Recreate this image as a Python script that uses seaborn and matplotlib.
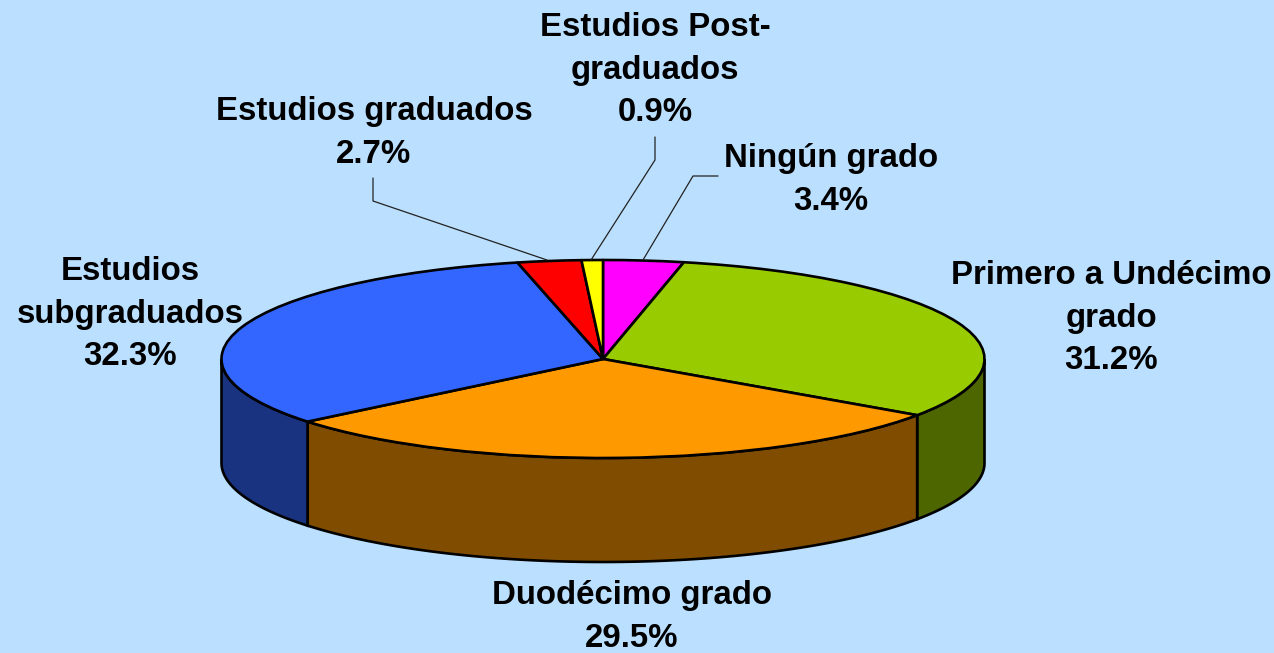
import numpy as np
import seaborn as sns
import matplotlib
matplotlib.use("Agg")
import matplotlib.pyplot as plt

categories = ["Ningún grado", "Primero a Undécimo\ngrado", "Duodécimo grado",
              "Estudios\nsubgraduados", "Estudios graduados", "Estudios Post-\ngraduados"]
values = [3.4, 31.2, 29.5, 32.3, 2.7, 0.9]
top_colors = ["#FF00FF", "#99CC00", "#FF9900", "#3366FF", "#FF0000", "#FFFF00"]
side_colors = ["#800080", "#4D6600", "#804D00", "#1A3380", "#800000", "#808000"]

sns.set_theme(style="white")
plt.rcParams["font.family"] = ["Liberation Sans", "DejaVu Sans"]

W, H = 1274, 653
cx, cy = 603, 359
rx, ry = 381.5, 99
depth = 104 / ry
bg = "#BBE0FF"

fig = plt.figure(figsize=(W / 100, H / 100), dpi=100, facecolor=bg)
ax = fig.add_axes([0, 0, 1, 1])

palette = sns.color_palette(top_colors)
ax.pie(values, colors=palette, startangle=90, counterclock=False, radius=1,
       wedgeprops=dict(edgecolor="black", linewidth=1.9, joinstyle="round"))
ax.set_aspect("auto")
ax.set_xlim(-cx / rx, (W - cx) / rx)
ax.set_ylim(-(H - cy) / ry, cy / ry)
ax.axis("off")

# side wall, only the part of each slice facing the front
ends = 90 - 3.6 * np.cumsum(values)
starts = np.r_[90, ends[:-1]]
for a0, a1, col in zip(starts, ends, side_colors):
    hi = min(a0, 0)
    lo = max(a1, -180)
    if hi <= lo:
        continue
    t = np.radians(np.linspace(lo, hi, 120))
    x = np.r_[np.cos(t), np.cos(t[::-1])]
    y = np.r_[np.sin(t), np.sin(t[::-1]) - depth]
    ax.fill(x, y, facecolor=col, edgecolor="black", linewidth=1.9, zorder=0)


def px(x, y):
    return (x - cx) / rx, (cy - y) / ry


leaders = [
    ([718, 693, 643], [176, 176, 260]),
    ([655, 655, 591], [137, 160, 260]),
    ([373, 373, 547], [178, 201, 260]),
]
for xs, ys in leaders:
    lx, ly = px(np.array(xs), np.array(ys))
    ax.plot(lx, ly, color="#222222", lw=0.9, zorder=3)

pcts = ["%.1f%%" % v for v in values]
label_pos = [(831, 180), (1111, 318), (632, 617), (130, 314), (374, 133), (655, 70)]
for name, pct, (lx, ly) in zip(categories, pcts, label_pos):
    tx, ty = px(lx, ly)
    ax.text(tx, ty, name + "\n" + pct, ha="center", va="center", fontsize=23.8,
            fontweight="bold", color="black", linespacing=1.46, zorder=5)

fig.savefig("out.png", dpi=100, facecolor=bg)
